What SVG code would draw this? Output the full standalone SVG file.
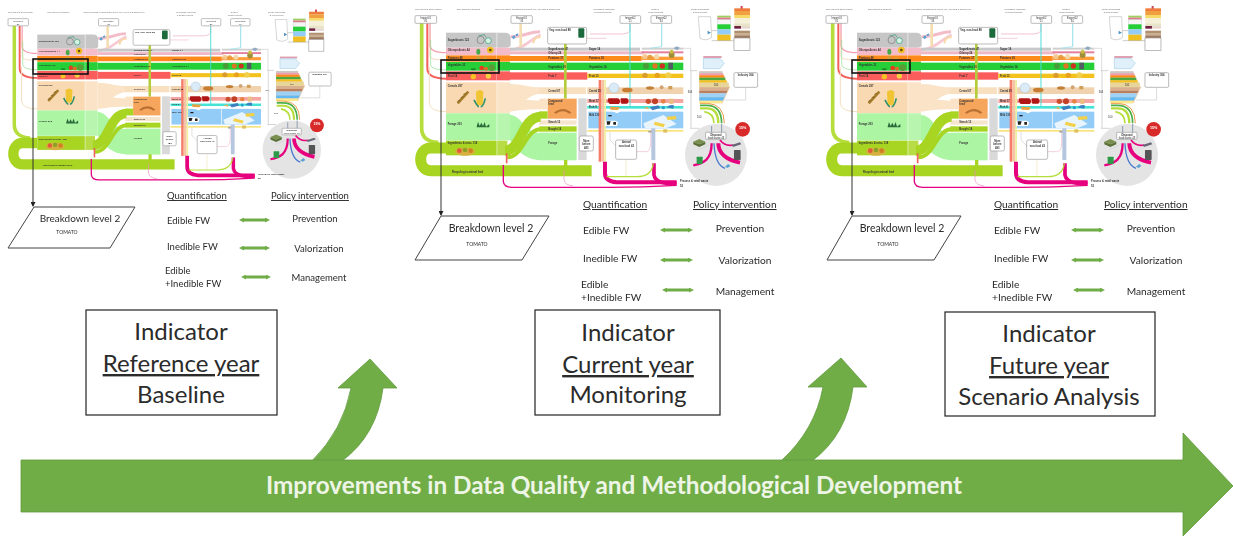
<svg xmlns="http://www.w3.org/2000/svg" width="1233" height="536" viewBox="0 0 1233 536">
<style>
.t{font-family:"Lato","Liberation Sans",sans-serif;fill:#2b2b2b}
.u{text-decoration:underline}
.m{text-anchor:middle}
.s{font-family:"Liberation Sans",sans-serif;font-size:8px;fill:#333}
.h{font-family:"Liberation Sans",sans-serif;font-size:6.5px;fill:#666}
.b{font-weight:bold}
.box{fill:#fff;stroke:#999;stroke-width:2}
.dbl{stroke:#70ad47;stroke-width:3;marker-start:url(#gs);marker-end:url(#ge);fill:none}
.ind{fill:#fff;stroke:#222;stroke-width:1.2}
.para{fill:#fff;stroke:#444;stroke-width:1}
.g{fill:#70ad47;stroke:#5f9a3c;stroke-width:.8}
.f{fill:none}
</style>
<defs>
<filter id="soft" x="-5%" y="-5%" width="110%" height="110%"><feGaussianBlur stdDeviation="0.45"/></filter>
<filter id="soft2" x="-5%" y="-5%" width="110%" height="110%"><feGaussianBlur stdDeviation="0.35"/></filter>
<marker id="gs" markerWidth="5" markerHeight="5" refX="4" refY="2.5" orient="auto" markerUnits="userSpaceOnUse"><path d="M5 0L0 2.5L5 5z" fill="#70ad47"/></marker>
<marker id="ge" markerWidth="5" markerHeight="5" refX="1" refY="2.5" orient="auto" markerUnits="userSpaceOnUse"><path d="M0 0L5 2.5L0 5z" fill="#70ad47"/></marker>
<marker id="ka" markerWidth="5" markerHeight="5" refX="4" refY="2.5" orient="auto" markerUnits="userSpaceOnUse"><path d="M0 0L5 2.5L0 5z" fill="#222"/></marker>
<g id="sankey">
<path class="f" d="M35 70V385Q35 425 85 428" stroke="#b5dd3a" stroke-width="11"/>
<path class="f" d="M52 70V205Q52 236 108 236" stroke="#f4605a" stroke-width="6"/>
<path class="f" d="M60 70V135Q60 158 108 158" stroke="#f4a0b0" stroke-width="4"/>
<path class="f" d="M60 100V170Q62 180 108 180" stroke="#f5c7a0" stroke-width="2"/>
<path class="f" d="M62 120V195Q65 210 108 210" stroke="#8fdc8f" stroke-width="2"/>
<path class="f" d="M58 200V310Q60 335 108 335" stroke="#f3dfc0" stroke-width="3"/>
<rect x="108" y="98" width="154" height="45" fill="#c6c6c6"/>
<path d="M262 98H285Q302 98 302 115V135Q302 143 285 143H262z" fill="#c6c6c6"/>
<rect x="108" y="143" width="192" height="22" fill="#f4bcc8"/>
<rect x="108" y="166" width="192" height="19" fill="#ff8a1e"/>
<rect x="108" y="186" width="192" height="26" fill="#25cf38"/>
<rect x="108" y="214" width="192" height="27" fill="#fb5b5b"/>
<rect x="108" y="247" width="154" height="93" fill="#f8d9b2"/>
<rect x="108" y="340" width="154" height="81" fill="#abf5a3"/>
<rect x="108" y="422" width="154" height="44" fill="#a8d423"/>
<rect x="262" y="247" width="38" height="93" fill="#fae3c6"/>
<rect x="262" y="340" width="38" height="81" fill="#b8f6b0"/>
<rect x="262" y="422" width="30" height="44" fill="#b8dc45"/>
<path d="M260 98V466" stroke="#fff" stroke-width="1.5" opacity=".8"/>
<path d="M300 252C340 252 350 262 390 262V282C350 282 340 330 300 290z" fill="#fae3c6"/>
<path d="M300 290C340 300 360 300 390 302V328C360 328 335 330 300 335z" fill="#fae3c6"/>
<path d="M300 345C335 345 345 400 392 400V480C345 480 320 450 300 420z" fill="#abf5a3"/>
<path d="M302 110C340 110 360 95 390 95" stroke="#f4bcc8" stroke-width="9" fill="none"/>
<path d="M300 150C340 150 370 110 392 105" stroke="#f7c9d2" stroke-width="8" fill="none"/>
<path d="M332 70V140" stroke="#f4ddb0" stroke-width="8"/>
<path d="M370 130Q372 110 392 112" stroke="#f7d9a8" stroke-width="6" fill="none"/>
<rect x="300" y="143" width="390" height="9" fill="#c8c8c8"/>
<rect x="300" y="154" width="400" height="9" fill="#efb8c6"/>
<rect x="300" y="168" width="395" height="15" fill="#ff8a1e"/>
<rect x="300" y="188" width="520" height="22" fill="#25cf38"/>
<rect x="300" y="217" width="232" height="22" fill="#fb5b5b"/>
<rect x="532" y="221" width="288" height="13" fill="#f4c21e"/>
<rect x="388" y="262" width="140" height="20" fill="#f8dfc0"/>
<rect x="532" y="262" width="288" height="20" fill="#f0d3ae"/>
<rect x="532" y="297" width="288" height="12" fill="#f6a6a0"/>
<rect x="532" y="318" width="288" height="8" fill="#45e3d6"/>
<rect x="695" y="143" width="125" height="6" fill="#d0d0d0"/>
<rect x="695" y="154" width="125" height="6" fill="#e47f9c"/>
<rect x="695" y="170" width="125" height="10" fill="#ff9d3a"/>
<rect x="413" y="296" width="87" height="60" fill="#f5a55c"/>
<rect x="388" y="296" width="25" height="32" fill="#fae3c6"/>
<rect x="388" y="361" width="112" height="13" fill="#f6e5cd"/>
<rect x="388" y="398" width="112" height="83" fill="#abf5a3"/>
<path class="f" d="M108 444H62C22 444 22 512 62 512H545" stroke="#a8d423" stroke-width="33"/>
<path class="f" d="M285 452C335 452 335 350 392 350" stroke="#a8d423" stroke-width="30"/>
<path class="f" d="M292 472C340 472 345 388 392 388" stroke="#a8d423" stroke-width="12"/>
<rect x="388" y="334" width="25" height="22" fill="#a8d423"/>
<rect x="388" y="379" width="112" height="16" fill="#a8d423"/>
<rect x="505" y="295" width="25" height="185" fill="#d9d9d9"/>
<rect x="462" y="130" width="8" height="166" fill="#b5cc3c"/>
<rect x="462" y="480" width="10" height="30" fill="#a8d423"/>
<rect x="535" y="335" width="158" height="50" fill="#92ccf7"/>
<rect x="695" y="335" width="125" height="50" fill="#92ccf7"/>
<path d="M700 370L760 345L800 372L770 384H705z" fill="#fff" opacity=".8"/>
<path d="M735 365l30 8-4 9-30-8zM770 350l28-2 2 10-28 2z" fill="#f3d04a"/>
<rect x="532" y="390" width="288" height="5" fill="#f7e37a"/>
<path d="M596 330l24-8 14 10-12 8z" fill="#fff"/>
<rect x="566" y="240" width="8" height="245" fill="#f47b68"/>
<rect x="574" y="240" width="9" height="245" fill="#f8c3a4"/>
<rect x="583" y="240" width="5" height="245" fill="#eef0a0"/>
<rect x="724" y="385" width="12" height="95" fill="#b6c6de"/>
<path class="f" d="M660 70V92Q658 100 640 102H540" stroke="#f0b8c8" stroke-width="2.5"/>
<path class="f" d="M660 70V320" stroke="#49dcd6" stroke-width="3"/>
<path class="f" d="M755 70V140" stroke="#a8e4ee" stroke-width="4"/>
<path class="f" d="M755 140L720 145" stroke="#a8e4ee" stroke-width="3"/>
<path class="f" d="M590 115H530" stroke="#f0b8c8" stroke-width="2"/>
<path class="f" d="M585 485V520Q585 545 620 547H800" stroke="#e6007e" stroke-width="12"/>
<path class="f" d="M732 490V525Q735 546 770 550H800" stroke="#e6007e" stroke-width="11"/>
<path class="f" d="M280 495V545Q282 562 305 562H600Q700 562 800 556" stroke="#e6007e" stroke-width="4"/>
<path class="f" d="M462 510V540Q465 556 490 558" stroke="#ef8cc0" stroke-width="2"/>
<path class="f" d="M730 490Q725 530 680 530H590" stroke="#b5dd3a" stroke-width="3.5"/>
<path class="f" d="M648 480V530" stroke="#e8d8a0" stroke-width="1.5"/>
<path class="f" d="M290 460V490" stroke="#f4605a" stroke-width="5"/>
<path class="f" d="M680 455H710Q722 452 722 430V390" stroke="#f0b8c8" stroke-width="2"/>
<path class="f" d="M600 395V420L620 440" stroke="#bbb" stroke-width="1.5"/>
<circle cx="212" cy="120" r="11" fill="none" stroke="#777" stroke-width="2"/><circle cx="235" cy="122" r="9" fill="#d7f0e0" stroke="#2a9a7a" stroke-width="2"/><path d="M205 108l18-4 5 8" stroke="#2a9a7a" stroke-width="2" fill="none"/>
<circle cx="241" cy="150" r="10" fill="#f0c020"/><circle cx="241" cy="150" r="4" fill="#6a4a10"/><ellipse cx="205" cy="155" rx="6" ry="9" fill="#4aa84a"/>
<circle cx="205" cy="176" r="7" fill="#c8a040" opacity=".9"/><circle cx="225" cy="178" r="7" fill="#d8a030" opacity=".9"/>
<circle cx="245" cy="203" r="10" fill="#5a9c35"/><circle cx="215" cy="204" r="7" fill="#e83a20"/><circle cx="228" cy="206" r="6" fill="#e8682a"/><ellipse cx="190" cy="208" rx="8" ry="3" fill="#1a8a2a"/>
<circle cx="190" cy="230" r="8" fill="#f4c420"/><circle cx="235" cy="228" r="8" fill="#f4d040"/>
<path d="M143 310L175 275" stroke="#a67c2a" stroke-width="8"/><path d="M150 300l-8 4M160 290l-8 3M168 280l-8 3" stroke="#704c10" stroke-width="2"/>
<path d="M198 275q12-10 22 0l-2 40h-18z" fill="#f0c430"/><path d="M192 300q10 20 15 20M226 295q-6 25-14 25" stroke="#2f8f6a" stroke-width="5" fill="none"/>
<path d="M200 380l4-14 5 12 5-10 5 10 5-12 4 14 10-8v10h-38z" fill="#2a6a3a"/>
<ellipse cx="165" cy="455" rx="30" ry="12" fill="#d8b040"/><circle cx="148" cy="452" r="7" fill="#e05a3a"/><circle cx="165" cy="450" r="7" fill="#8ca028"/><circle cx="182" cy="452" r="7" fill="#d08020"/>
<path d="M432 338q28-22 52 0l-6 3q-20-14-40 0z" fill="#b87030"/>
<path d="M305 112l8-6 4 6-6 6zM316 104l7-4 2 6-6 3z" fill="#5aa0d0"/>
<circle cx="612" cy="264" r="15" fill="#dbeaf7" stroke="#8ab" stroke-width="1"/><ellipse cx="652" cy="270" rx="16" ry="7" fill="#c77b30"/>
<path d="M595 295h30l6 8-4 9h-28l-6-8z" fill="#b01515"/><path d="M632 295h20l4 8-4 8h-18z" fill="#b01515"/>
<path d="M600 320l30 2-6 8-22-1z" fill="#e8a040"/>
<path d="M585 362h30l10 4-4 12h-36z" fill="#fff"/><path d="M590 364h12l-3 10h-8zM610 366h8v8h-8z" fill="#222"/><rect x="595" y="345" width="10" height="4" fill="#222"/>
<g opacity=".95"><circle cx="705" cy="170" r="8" fill="#f4c890"/><circle cx="720" cy="172" r="8" fill="#e89a3a"/><circle cx="740" cy="170" r="8" fill="#f2d8a8"/><circle cx="785" cy="165" r="9" fill="#9a8a30"/><circle cx="785" cy="155" r="6" fill="#c8c040"/>
<circle cx="708" cy="198" r="9" fill="#4a9a3a"/><circle cx="735" cy="198" r="8" fill="#e87020"/><circle cx="757" cy="198" r="8" fill="#d82a20"/><rect x="775" y="188" width="14" height="20" fill="#556"/>
<circle cx="705" cy="226" r="8" fill="#d89a30"/><circle cx="742" cy="226" r="8" fill="#e8a020"/><circle cx="775" cy="226" r="9" fill="#f0d050"/>
<ellipse cx="720" cy="264" rx="12" ry="5" fill="#c07a30"/><circle cx="755" cy="262" r="6" fill="#d0a070"/><rect x="775" y="258" width="12" height="10" fill="#d09a50"/>
<circle cx="715" cy="304" r="8" fill="#c84a2a"/><circle cx="735" cy="304" r="9" fill="#c03a20"/><circle cx="760" cy="304" r="7" fill="#e88040"/><rect x="778" y="296" width="12" height="16" fill="#e8c080"/>
<path d="M720 322l25-6 6 8-24 7zM770 322q10-10 22-6l-2 10z" fill="#3a7ac0"/><path d="M700 324l14-4 2 8z" fill="#e0b060"/><circle cx="760" cy="323" r="5" fill="#2a9ad0"/>
<path d="M790 145l10-6 10 4-8 8z" fill="#90a8c0"/></g>
<rect x="715" y="392" width="10" height="6" fill="#aaa"/><rect x="760" y="388" width="12" height="10" fill="#e0c060"/>
<rect class="box" x="15" y="47" width="65" height="23" rx="3"/>
<rect class="box" x="303" y="47" width="64" height="23" rx="3"/>
<rect class="box" x="630" y="47" width="62" height="23" rx="3"/>
<rect class="box" x="723" y="47" width="62" height="23" rx="3"/>
<rect class="box" x="413" y="82" width="117" height="50" rx="5"/>
<rect x="505" y="85" width="18" height="28" rx="3" fill="#1c6a3a"/>
<rect class="box" x="508" y="408" width="42" height="45" rx="5"/>
<rect class="box" x="617" y="420" width="63" height="58" rx="5"/>
<path d="M840 212H862M840 385H868M843 212V385" stroke="#aaa" stroke-width="1.5" fill="none"/>
<path d="M820 145H842V212" stroke="#bbb" stroke-width="1.5" fill="none"/>
<rect x="880" y="168" width="55" height="6" fill="#e0a0b0"/>
<path d="M880 175H930L943 190L930 206H880z" fill="#dff0fb" stroke="#7fb8d8" stroke-width="1.2"/>
<path d="M868 214H935L960 262L938 310H868z" fill="#f0d3ae"/>
<rect x="868" y="214" width="70" height="6" fill="#c9c9c9"/><rect x="868" y="220" width="72" height="6" fill="#ef9ab0"/><rect x="868" y="226" width="75" height="7" fill="#ff8a1e"/><rect x="868" y="233" width="78" height="8" fill="#4ba83a"/><rect x="868" y="241" width="82" height="7" fill="#f4c21e"/>
<rect x="868" y="248" width="88" height="14" fill="#e8d59a"/>
<path d="M868 262H958L953 272H868z" fill="#d8b090"/><path d="M868 272H953L949 280H868z" fill="#b88060"/>
<path d="M868 280H949L944 292H868z" fill="#9fd0f5"/><path d="M868 292H944L938 302H868z" fill="#62b8f0"/><path d="M868 302H938L934 310H868z" fill="#ffe98a"/>
<rect class="box" x="972" y="218" width="71" height="44" rx="4"/>
<path d="M1007 262V300H945" stroke="#bbb" stroke-width="1.5" fill="none"/>
<path d="M870 325H890Q925 325 925 370" stroke="#b5dd3a" stroke-width="7" fill="none"/>
<path d="M870 316H890Q935 316 935 370" stroke="#4cb04c" stroke-width="5" fill="none"/>
<path d="M870 310H892Q943 312 943 370" stroke="#f09a4a" stroke-width="3" fill="none"/>
<path d="M883 335Q912 340 912 370" stroke="#b5dd3a" stroke-width="5" fill="none"/>
<circle cx="918" cy="465" r="93" fill="#e4e4e4"/>
<rect class="box" x="887" y="397" width="61" height="21" rx="2"/>
<path d="M905 378V397M935 372V397" stroke="#8a9ab0" stroke-width="3"/>
<circle cx="998" cy="388" r="22" fill="#d92a2a"/>
<path d="M905 430C905 480 880 490 850 496" stroke="#e6007e" stroke-width="7" fill="none"/>
<path d="M925 430C925 460 950 480 990 488" stroke="#e6007e" stroke-width="12" fill="none"/>
<path d="M930 420Q945 440 970 435" stroke="#e6007e" stroke-width="5" fill="none"/>
<path d="M912 430Q915 495 945 505" stroke="#4a7ad0" stroke-width="4" fill="none"/>
<path d="M895 435Q880 445 865 448" stroke="#d0d0d0" stroke-width="2" fill="none"/>
<path d="M850 425l18-8 18 8-18 8z" fill="#7a9050"/><path d="M850 425v8l18 8v-8zM886 425v8l-18 8v-8z" fill="#5c7038"/>
<rect x="860" y="470" width="18" height="22" rx="2" fill="#2e9a4a"/><rect x="972" y="450" width="20" height="30" rx="2" fill="#555"/><path d="M965 435l25-8 4 6-25 8z" fill="#667"/><path d="M945 500l10-8 6 6-8 6z" fill="#5aa0d0"/>
<path d="M865 50H902L905 112Q890 125 870 115z" fill="#fff" stroke="#aaa" stroke-width="1.5"/>
<path d="M893 92l10 6-10 5z" fill="#4a90c0"/>
<rect x="922" y="47" width="40" height="6" fill="#9ccf60"/><rect x="922" y="53" width="40" height="6" fill="#e07a90"/><rect x="922" y="59" width="40" height="14" fill="#f5f5f5" stroke="#bbb"/>
<rect x="922" y="73" width="40" height="15" fill="#25cf38"/><rect x="922" y="88" width="40" height="16" fill="#92ccf7"/><rect x="922" y="104" width="40" height="18" fill="#f0c020"/>
<path d="M905 92H922M905 122H1020" stroke="#999" stroke-width="1.5" fill="none"/>
<rect x="973" y="25" width="47" height="8" fill="#f07b3a"/><rect x="973" y="33" width="47" height="12" fill="#f0a040"/><rect x="973" y="45" width="47" height="9" fill="#f7d96a"/><rect x="973" y="54" width="47" height="16" fill="#f5f0d8"/><rect x="973" y="70" width="47" height="8" fill="#e8e4c8"/><rect x="973" y="78" width="20" height="8" fill="#6e2040"/><rect x="993" y="78" width="27" height="8" fill="#e8d8d0"/><rect x="992" y="18" width="6" height="8" fill="#d04050"/>
<rect x="973" y="92" width="47" height="7" fill="#b09070"/><rect x="973" y="99" width="47" height="7" fill="#c8b090"/><rect x="973" y="106" width="47" height="8" fill="#a07a60"/>
<rect class="box" x="972" y="114" width="48" height="37"/>
<g>
<text class="h" x="15" y="30">Crop import &amp; stock change</text>
<text class="h" x="140" y="30">Crop harvest &amp; transport</text>
<text class="h" x="255" y="30">Crop processing, conditioning &amp; import, buy, non-food &amp; animal feed</text>
<text class="h" x="550" y="30">Processing, wholesale</text><text class="h" x="553" y="39">&amp; product imports</text>
<text class="h" x="724" y="30">Retail &amp;</text><text class="h" x="715" y="39">product imports</text>
<text class="h" x="842" y="30">Private households</text><text class="h" x="848" y="39">&amp; food services</text>
<text class="s m" x="47" y="57">Import01</text><text class="s m" x="47" y="66">81</text>
<text class="s m" x="335" y="57">Export01</text><text class="s m" x="335" y="66">33</text>
<text class="s m" x="661" y="57">Import02</text><text class="s m" x="661" y="66">21</text>
<text class="s m" x="754" y="57">Export02</text><text class="s m" x="754" y="66">34</text>
<text class="s b" x="113" y="123">Sugar&amp;roots 123</text>
<text class="s b" x="113" y="153">Oilcrops&amp;nuts 44</text>
<text class="s b" x="113" y="178">Potatoes 48</text>
<text class="s b" x="113" y="197">Vegetables 33</text>
<text class="s b" x="113" y="232">Fruit 14</text>
<text class="s b" x="113" y="261">Cereals 297</text>
<text class="s b" x="113" y="376">Forage 203</text>
<text class="s b" x="113" y="433">Ingredients &amp; misc. 118</text>
<text class="s b" x="126" y="518">Recycling to animal feed</text>
<text class="s b" x="418" y="93">Veg. non-food 88</text>
<text class="s b" x="415" y="149">Sugar&amp;roots 47</text>
<text class="s b" x="415" y="163">Oilcrop 24</text>
<text class="s b" x="415" y="178">Potatoes 37</text>
<text class="s b" x="415" y="203">Vegetables 20</text>
<text class="s b" x="415" y="231">Fruit 7</text>
<text class="s b" x="415" y="275">Cereal 67</text>
<text class="s b" x="415" y="306">Compound</text><text class="s b" x="415" y="316">feed</text>
<text class="s b" x="415" y="370">Starch 12</text>
<text class="s b" x="415" y="390">Bought 14</text>
<text class="s b" x="415" y="432">Forage</text>
<text class="s b" x="537" y="203">Vegetables 14</text>
<text class="s b" x="537" y="347">Milk 130</text>
<text class="s b" x="537" y="275">Cereal 35</text>
<text class="s b" x="537" y="149">Sugar 14</text>
<text class="s b" x="537" y="178">Potatoes 20</text>
<text class="s b" x="537" y="231">Fruit 13</text>
<text class="s b" x="537" y="306">Meat 17</text>
<text class="s b" x="537" y="324">Fish 8</text>
<text class="s m" x="840" y="278">364</text>
<text class="s m" x="868" y="353">100</text>
<text class="s m" x="918" y="258">100</text>
<text class="s b m" x="1007" y="228">Industry 364</text>
<text class="s b m" x="918" y="407">Disposal</text><text class="s m" x="918" y="416">food waste 48</text>
<text class="s b m" x="649" y="430">Animal</text><text class="s b m" x="649" y="442">non-food 43</text>
<text class="s b m" x="529" y="425">More</text><text class="s b m" x="529" y="436">before</text><text class="s b m" x="529" y="447">483</text>
<text x="998" y="386" font-family="Liberation Sans,sans-serif" font-size="11" font-weight="bold" fill="#fff" text-anchor="middle">15%</text>
<text class="s b" x="810" y="546">Process &amp; retail waste</text><text class="s b" x="810" y="560">52</text>
</g>
</g>
</defs>

<g id="panel-reference">
<g filter="url(#soft)"><use href="#sankey" transform="translate(3.3 3.9) scale(.3143 .3133)"/></g>
<rect x="33" y="59" width="55" height="15" fill="none" stroke="#111" stroke-width="1.6"/>
</g>
<g id="panel-current">
<g filter="url(#soft)"><use href="#sankey" transform="translate(410 0) scale(.3333)"/></g>
<rect x="441" y="60" width="58" height="13" fill="none" stroke="#111" stroke-width="1.6"/>
</g>
<g id="panel-future">
<g filter="url(#soft)"><use href="#sankey" transform="translate(821 0) scale(.3333)"/></g>
<rect x="852" y="60" width="58" height="13" fill="none" stroke="#111" stroke-width="1.6"/>
</g>

<g id="connectors">
<path d="M33 74V206" stroke="#333" stroke-width="1" marker-end="url(#ka)"/>
<path d="M441 73V215" stroke="#333" stroke-width="1" marker-end="url(#ka)"/>
<path d="M852 73V215" stroke="#333" stroke-width="1" marker-end="url(#ka)"/>
<path class="dbl" d="M243 220H266"/><path class="dbl" d="M243 248H266"/><path class="dbl" d="M245 277H267"/>
<path class="dbl" d="M664 230H689"/><path class="dbl" d="M664 260H689"/><path class="dbl" d="M666 290H690"/>
<path class="dbl" d="M1075 230H1100"/><path class="dbl" d="M1075 260H1100"/><path class="dbl" d="M1077 290H1101"/>
</g>

<g id="breakdown-reference" filter="url(#soft2)">
<path class="para" d="M34 207H135L110 248H8z"/>
<text class="t m" x="80" y="222" font-size="10">Breakdown level 2</text>
<text class="t m" x="67" y="234" font-size="5">TOMATO</text>
</g>
<g id="breakdown-current" filter="url(#soft2)">
<path class="para" d="M441 216H549L522 260H415z"/>
<text class="t m" x="491" y="232" font-size="10.5">Breakdown level 2</text>
<text class="t m" x="477" y="246" font-size="5">TOMATO</text>
</g>
<g id="breakdown-future" filter="url(#soft2)">
<path class="para" d="M852 216H961L934 260H827z"/>
<text class="t m" x="902" y="232" font-size="10.5">Breakdown level 2</text>
<text class="t m" x="888" y="246" font-size="5">TOMATO</text>
</g>

<g id="table-reference" font-size="9.5" filter="url(#soft2)">
<text class="t u" x="167" y="199">Quantification</text><text class="t u" x="271" y="199">Policy intervention</text>
<text class="t" x="167" y="224">Edible FW</text><text class="t" x="167" y="250">Inedible FW</text><text class="t" x="165" y="274">Edible</text><text class="t" x="165" y="287">+Inedible FW</text>
<text class="t m" x="315" y="222">Prevention</text><text class="t m" x="319" y="252">Valorization</text><text class="t m" x="319" y="281">Management</text>
</g>
<g id="table-current" font-size="10.2" filter="url(#soft2)">
<text class="t u" x="583" y="208">Quantification</text><text class="t u" x="693" y="208">Policy intervention</text>
<text class="t" x="583" y="234">Edible FW</text><text class="t" x="583" y="262">Inedible FW</text><text class="t" x="581" y="288">Edible</text><text class="t" x="581" y="301">+Inedible FW</text>
<text class="t m" x="740" y="232">Prevention</text><text class="t m" x="745" y="264">Valorization</text><text class="t m" x="745" y="295">Management</text>
</g>
<g id="table-future" font-size="10.2" filter="url(#soft2)">
<text class="t u" x="994" y="208">Quantification</text><text class="t u" x="1104" y="208">Policy intervention</text>
<text class="t" x="994" y="234">Edible FW</text><text class="t" x="994" y="262">Inedible FW</text><text class="t" x="992" y="288">Edible</text><text class="t" x="992" y="301">+Inedible FW</text>
<text class="t m" x="1151" y="232">Prevention</text><text class="t m" x="1156" y="264">Valorization</text><text class="t m" x="1156" y="295">Management</text>
</g>

<g id="timeline">
<path class="g" d="M312 461Q343 430 351 388H338L370 359L397 388H383Q377 435 342 461z"/>
<path class="g" d="M781 461Q815 430 823 387H808L841 358L867 387H853Q847 435 812 461z"/>
<path class="g" d="M21 460H1183V433L1233 486L1183 536V512H21z"/>
<text x="614" y="494" font-family="Lato,Liberation Sans,sans-serif" font-weight="bold" font-size="24.3" fill="#eef5e6" text-anchor="middle">Improvements in Data Quality and Methodological Development</text>
</g>

<g id="indicator-reference" font-size="24">
<rect class="ind" x="86" y="310" width="191" height="105"/>
<text class="t m" x="181" y="340">Indicator</text><text class="t m u" x="181" y="372">Reference year</text><text class="t m" x="181" y="403">Baseline</text>
</g>
<g id="indicator-current" font-size="24">
<rect class="ind" x="535" y="310" width="185" height="105"/>
<text class="t m" x="628" y="341">Indicator</text><text class="t m u" x="628" y="373">Current year</text><text class="t m" x="628" y="403">Monitoring</text>
</g>
<g id="indicator-future" font-size="24">
<rect class="ind" x="945" y="312" width="210" height="104"/>
<text class="t m" x="1049" y="342">Indicator</text><text class="t m u" x="1049" y="374">Future year</text><text class="t m" x="1049" y="405">Scenario Analysis</text>
</g>
</svg>
